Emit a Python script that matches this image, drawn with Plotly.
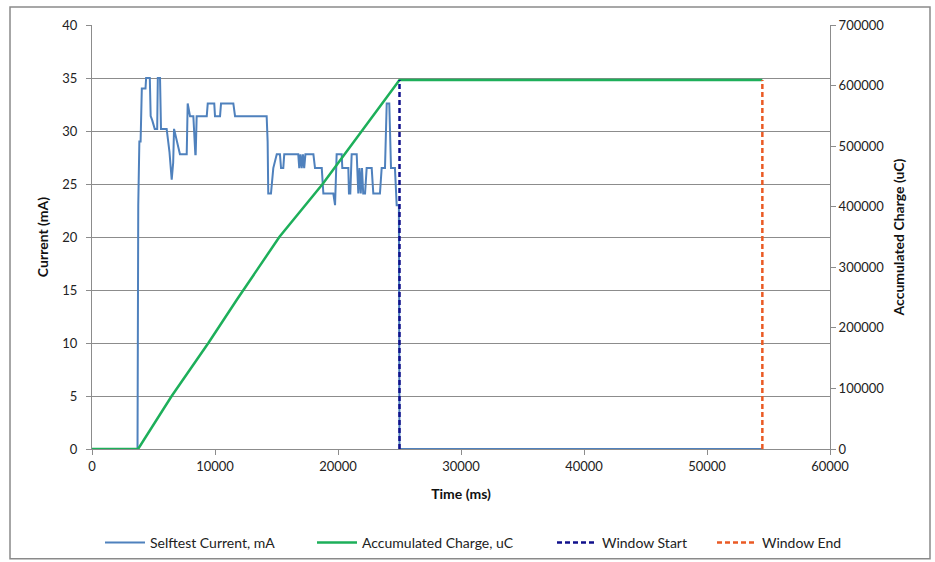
import plotly.graph_objects as go

# Self-test current samples (time in ms, current in mA)
current_time_ms = [
    0, 3700, 3760, 3850, 3950, 4050, 4350, 4400, 4700, 4770, 4900, 5100, 5300,
    5350, 5530, 5610, 6070, 6300, 6480, 6600, 6670, 6890, 7150, 7700, 7780,
    7970, 8240, 8400, 8430, 8510, 9330, 9410, 9940, 10000, 10410, 10490,
    11490, 11630, 14200, 14280, 14330, 14550, 14740, 15020, 15280, 15370,
    15550, 15630, 16770, 16850, 16950, 17050, 17150, 17250, 17350, 17460,
    18000, 18130, 18680, 18810, 19620, 19760, 19890, 20300, 20350, 20840,
    20890, 21000, 21110, 21520, 21650, 21750, 21850, 21950, 22050, 22200,
    22330, 22740, 22870, 23410, 23550, 23820, 23960, 24170, 24310, 24630,
    24770, 24950, 25000, 54500,
]
current_ma = [
    0, 0, 23, 29, 29, 34, 34, 35, 35, 31.4, 31, 30.2, 30.2,
    35, 35, 30.2, 30.2, 28, 25.4, 27, 30.2, 29.1, 27.8, 27.8, 32.6,
    31.4, 31.4, 27.8, 27.8, 31.4, 31.4, 32.6, 32.6, 31.4, 31.4, 32.6,
    32.6, 31.4, 31.4, 29, 24.1, 24.1, 26.5, 27.8, 27.8, 26.5,
    26.5, 27.8, 27.8, 26.5, 27.8, 26.5, 27.8, 26.5, 27.8, 27.8,
    27.8, 26.5, 26.5, 24.1, 24.1, 23, 27.8, 27.8, 26.5, 26.5,
    24.1, 24.1, 27.8, 27.8, 24.1, 26.5, 24.1, 26.5, 24.1, 24.1,
    26.5, 26.5, 24.1, 24.1, 26.5, 26.5, 32.6, 32.6, 26.5, 26.5,
    23, 23, 0, 0,
]

# Accumulated charge (time in ms, charge in uC)
charge_time_ms = [0, 3750, 6480, 9460, 11760, 15230, 18750, 25000, 54500]
charge_uc = [0, 0, 87500, 175000, 246000, 350000, 437500, 609000, 609000]

# Measurement window markers (ms) and their height (uC)
window_start_ms = 25000
window_end_ms = 54500
window_top_uc = 609000

FONT = "Lato"
GRID = "#8c8c8c"
W, H = 935, 562

fig = go.Figure()

fig.add_trace(go.Scatter(
    x=current_time_ms, y=current_ma, mode="lines",
    name="Selftest Current, mA",
    line=dict(color="#4F81BD", width=2),
    yaxis="y", legend="legend", showlegend=True,
))
fig.add_trace(go.Scatter(
    x=charge_time_ms, y=charge_uc, mode="lines",
    name="Accumulated Charge, uC",
    line=dict(color="#1DAF5A", width=2.5),
    yaxis="y2", legend="legend2", showlegend=True,
))
fig.add_trace(go.Scatter(
    x=[window_start_ms, window_start_ms], y=[0, window_top_uc], mode="lines",
    name="Window Start",
    line=dict(color="#10108C", width=2.5, dash="5px,3px"),
    yaxis="y2", legend="legend3", showlegend=True,
))
fig.add_trace(go.Scatter(
    x=[window_end_ms, window_end_ms], y=[0, window_top_uc], mode="lines",
    name="Window End",
    line=dict(color="#EA5A24", width=2.5, dash="5px,3px"),
    yaxis="y2", legend="legend4", showlegend=True,
))

axis_font = dict(family=FONT, size=13, color="#222222")
title_font = dict(family=FONT, size=14, color="#111111")


def legend_at(px_left):
    return dict(
        orientation="h", xref="container", yref="container",
        x=px_left / W, xanchor="left", y=1 - 543 / H, yanchor="middle",
        font=dict(family=FONT, size=14, color="#222222"),
        bgcolor="rgba(0,0,0,0)", itemwidth=40,
    )


fig.update_layout(
    width=W, height=H,
    showlegend=True,
    margin=dict(l=92, r=105, t=25, b=113, autoexpand=False),
    paper_bgcolor="white", plot_bgcolor="white",
    font=dict(family=FONT, size=13, color="#222222"),
    xaxis=dict(
        range=[0, 60000], dtick=10000, tickformat="d",
        showgrid=False, zeroline=False,
        showline=True, linecolor=GRID, linewidth=1,
        ticks="outside", ticklen=5, tickcolor=GRID,
        tickfont=axis_font,
        title=dict(text="<b>Time (ms)</b>", font=title_font, standoff=16),
    ),
    yaxis=dict(
        range=[0, 40], dtick=5,
        showgrid=True, gridcolor=GRID, gridwidth=1, zeroline=False,
        showline=True, linecolor=GRID, linewidth=1,
        ticks="outside", ticklen=5, tickcolor=GRID, ticklabelstandoff=6,
        tickfont=axis_font,
        title=dict(text="<b>Current (mA)</b>", font=title_font, standoff=10),
    ),
    yaxis2=dict(
        range=[0, 700000], dtick=100000, tickformat="d",
        overlaying="y", side="right",
        showgrid=False, zeroline=False,
        showline=True, linecolor=GRID, linewidth=1,
        ticks="outside", ticklen=5, tickcolor=GRID,
        tickfont=axis_font,
        title=dict(text="<b>Accumulated Charge (uC)</b>", font=title_font, standoff=10),
    ),
    legend=legend_at(100),
    legend2=legend_at(312),
    legend3=legend_at(552),
    legend4=legend_at(712),
    shapes=[dict(
        type="rect", xref="paper", yref="paper",
        x0=-0.1111, x1=1.1355, y0=-0.259, y1=1.0425,
        line=dict(color="#8a8a8a", width=1.5), fillcolor="rgba(0,0,0,0)",
        layer="below",
    )],
)

fig.write_html("out.html")
